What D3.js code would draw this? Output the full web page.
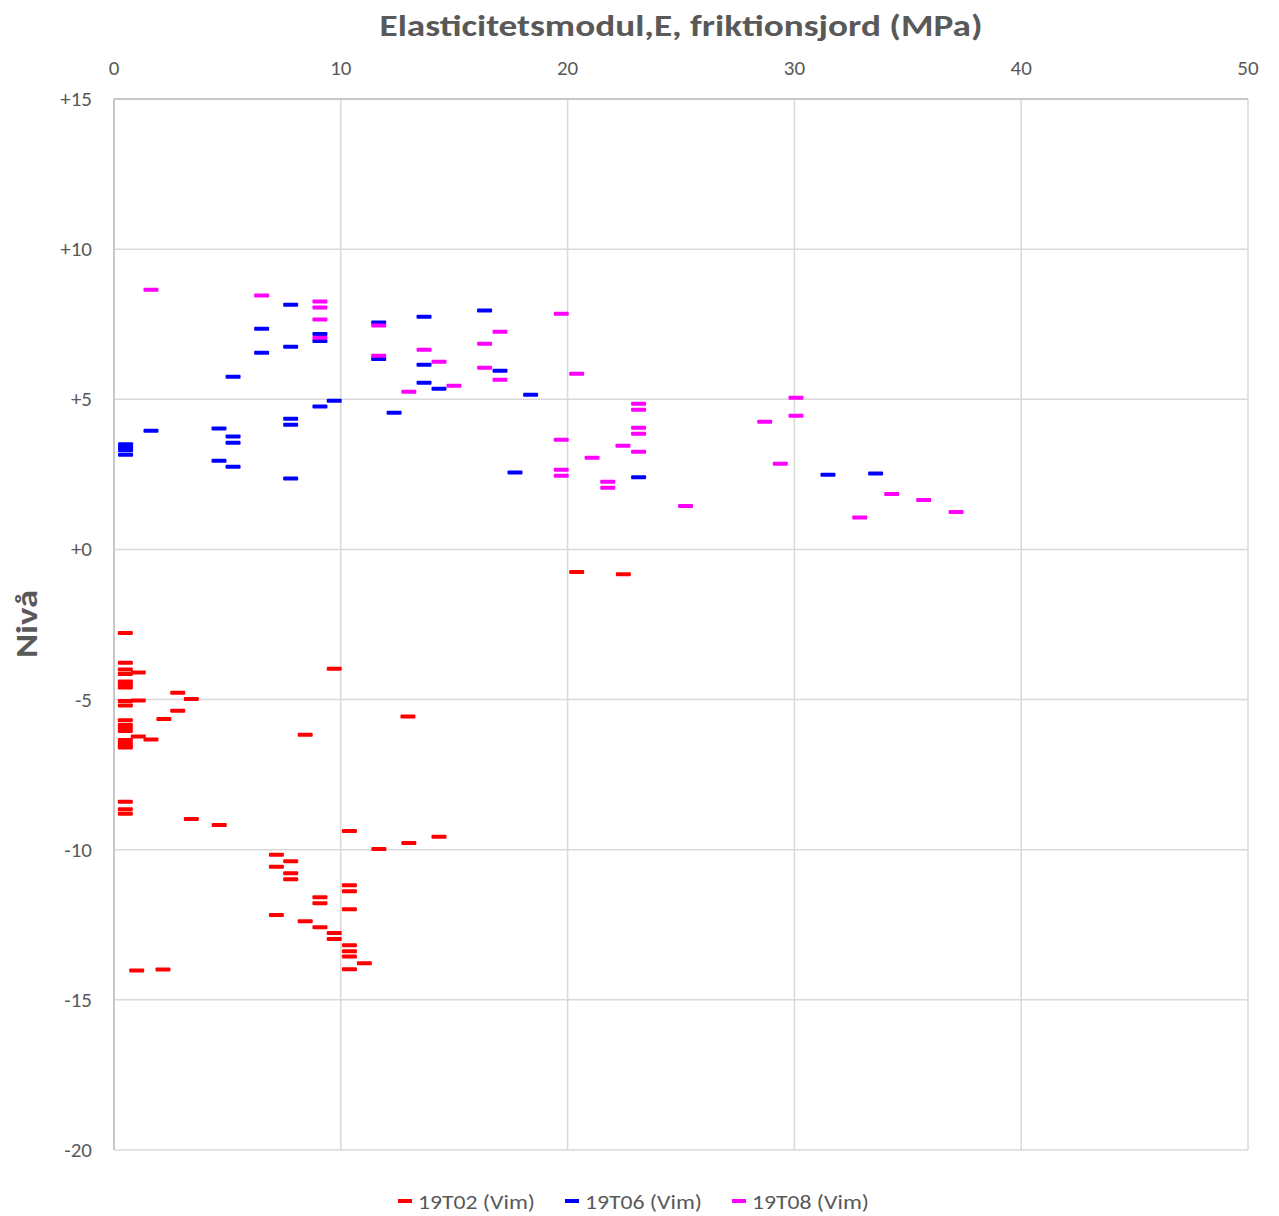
<!DOCTYPE html>
<html>
<head>
<meta charset="utf-8">
<script src="https://cdn.jsdelivr.net/npm/d3@7"></script>
<style>
  body { margin: 0; background: #fff; }
  svg text { font-family: Carlito, Calibri, "Liberation Sans", Arial, sans-serif; fill: #595959; }
</style>
</head>
<body>
<div id="chart"></div>
<script>
// ---- data ----
var seriesNames = ["19T02 (Vim)", "19T06 (Vim)", "19T08 (Vim)"];
var seriesColors = ["#ff0000", "#0000ff", "#ff00ff"];

var xTicks = [0, 10, 20, 30, 40, 50];
var yTicks = [15, 10, 5, 0, -5, -10, -15, -20];
var yTickLabels = ["+15", "+10", "+5", "+0", "-5", "-10", "-15", "-20"];

// 19T02 (Vim)
var e02 = [0.5, 0.5, 0.5, 0.5, 0.5, 0.5, 0.5, 0.5, 0.5, 0.5, 0.5, 0.5, 0.5, 0.5, 0.5, 0.5, 0.5, 0.5, 0.5, 0.5,
  1.07, 1.07, 1.07, 1.63, 2.2, 2.81, 2.81, 3.41, 3.41, 4.64, 8.43, 9.71, 12.96,
  10.38, 10.38, 10.38, 10.38, 10.38, 10.38, 10.38, 10.38, 14.33, 13.0, 11.68,
  7.16, 7.16, 7.16, 7.79, 7.79, 7.79, 9.08, 9.08, 9.08, 8.43, 9.71, 9.71, 11.04,
  1.0, 2.16, 20.4, 22.46];
var lvl02 = [-2.78, -3.77, -4.0, -4.15, -4.4, -4.5, -4.6, -5.05, -5.2, -5.69, -5.85, -5.95, -6.05, -6.35, -6.45, -6.55, -6.6, -8.4, -8.65, -8.8,
  -4.1, -5.03, -6.23, -6.33, -5.65, -4.77, -5.37, -4.98, -8.98, -9.18, -6.17, -3.97, -5.56,
  -9.38, -11.18, -11.38, -11.98, -13.18, -13.38, -13.56, -13.98, -9.57, -9.78, -9.98,
  -10.17, -10.57, -12.17, -10.38, -10.78, -10.98, -11.58, -11.78, -12.58, -12.38, -12.77, -12.97, -13.78,
  -14.02, -13.99, -0.75, -0.83];

// 19T06 (Vim)
var e06 = [0.51, 0.51, 0.51, 0.51, 1.63, 4.63, 4.63, 5.25, 5.25, 5.25, 5.25, 6.51, 6.51,
  7.79, 7.79, 7.79, 7.79, 7.79, 9.08, 9.08, 9.08, 9.71, 11.67, 11.67, 12.35,
  13.67, 13.67, 13.67, 14.33, 16.34, 17.02, 17.68, 18.37, 23.13, 31.48, 33.58];
var lvl06 = [3.5, 3.4, 3.3, 3.15, 3.95, 4.03, 2.95, 5.75, 3.76, 3.55, 2.75, 7.35, 6.55,
  8.15, 6.75, 4.35, 4.15, 2.36, 7.17, 6.94, 4.76, 4.95, 7.56, 6.34, 4.55,
  7.75, 6.15, 5.55, 5.35, 7.96, 5.95, 2.56, 5.15, 2.4, 2.49, 2.53];

// 19T08 (Vim)
var e08 = [1.63, 6.51, 9.08, 9.08, 9.08, 9.08, 11.67, 11.67, 13.0, 13.67, 14.33, 14.99,
  16.34, 16.34, 17.02, 17.02, 19.72, 19.72, 19.72, 19.72, 20.4, 21.08, 21.77, 21.77, 22.44,
  23.13, 23.13, 23.13, 23.13, 23.13, 25.2, 28.69, 29.38, 30.07, 30.07, 32.88, 34.29, 35.7, 37.13];
var lvl08 = [8.65, 8.46, 8.26, 8.06, 7.66, 7.05, 7.46, 6.45, 5.25, 6.65, 6.25, 5.45,
  6.85, 6.05, 7.25, 5.65, 7.85, 3.65, 2.65, 2.45, 5.85, 3.05, 2.25, 2.05, 3.45,
  4.85, 4.65, 4.05, 3.85, 3.25, 1.45, 4.25, 2.85, 5.05, 4.45, 1.06, 1.85, 1.65, 1.25];

var seriesE = [e02, e06, e08];
var seriesLvl = [lvl02, lvl06, lvl08];

// ---- layout ----
var W = 1279, H = 1216;
var plotL = 114, plotR = 1248, plotT = 99, plotB = 1150;

var svg = d3.select("#chart").append("svg").attr("width", W).attr("height", H);

var x = d3.scaleLinear().domain([0, 50]).range([plotL, plotR]);
var y = d3.scaleLinear().domain([-20, 15]).range([plotB, plotT]);

// gridlines
svg.append("g").selectAll("line").data(xTicks).enter().append("line")
  .attr("x1", function (d) { return x(d); }).attr("x2", function (d) { return x(d); })
  .attr("y1", plotT).attr("y2", plotB)
  .attr("stroke", "#d9d9d9").attr("stroke-width", 1.5);
svg.append("g").selectAll("line").data(yTicks).enter().append("line")
  .attr("x1", plotL).attr("x2", plotR)
  .attr("y1", function (d) { return y(d); }).attr("y2", function (d) { return y(d); })
  .attr("stroke", "#d9d9d9").attr("stroke-width", 1.5);

// axis lines (left and top)
svg.append("line").attr("x1", plotL).attr("x2", plotL).attr("y1", plotT).attr("y2", plotB)
  .attr("stroke", "#c8c8c8").attr("stroke-width", 2);
svg.append("line").attr("x1", plotL).attr("x2", plotR).attr("y1", plotT).attr("y2", plotT)
  .attr("stroke", "#c8c8c8").attr("stroke-width", 2);

// top x tick labels
svg.append("g").selectAll("text").data(xTicks).enter().append("text")
  .attr("x", function (d) { return x(d); }).attr("y", 75)
  .attr("text-anchor", "middle").attr("font-size", 21)
  .text(function (d) { return d; });

// y tick labels
svg.append("g").selectAll("text").data(yTicks).enter().append("text")
  .attr("x", 92).attr("y", function (d) { return y(d) + 7; })
  .attr("text-anchor", "end").attr("font-size", 21)
  .text(function (d, i) { return yTickLabels[i]; });

// title
svg.append("text").attr("x", 681).attr("y", 36).attr("text-anchor", "middle")
  .attr("font-size", 31).attr("font-weight", "bold")
  .attr("textLength", 603).attr("lengthAdjust", "spacingAndGlyphs")
  .text("Elasticitetsmodul,E, friktionsjord (MPa)");

// y axis title
svg.append("text").attr("transform", "translate(37,624) rotate(-90)")
  .attr("text-anchor", "middle").attr("font-size", 30).attr("font-weight", "bold")
  .attr("textLength", 68).attr("lengthAdjust", "spacingAndGlyphs")
  .text("Nivå");

// markers (short horizontal dashes)
var mw = 15, mh = 4;
seriesE.forEach(function (es, s) {
  var pts = es.map(function (e, i) { return [e, seriesLvl[s][i]]; });
  svg.append("g").selectAll("rect").data(pts).enter().append("rect")
    .attr("x", function (d) { return x(d[0]) - mw / 2; })
    .attr("y", function (d) { return y(d[1]) - mh / 2; })
    .attr("width", mw).attr("height", mh).attr("rx", 1)
    .attr("fill", seriesColors[s]);
});

// legend
var legendX = [398, 565, 732];
var lg = svg.append("g").selectAll("g").data(seriesNames).enter().append("g")
  .attr("transform", function (d, i) { return "translate(" + legendX[i] + ",1201)"; });
lg.append("rect").attr("x", 0).attr("y", -2).attr("width", 14).attr("height", 4)
  .attr("fill", function (d, i) { return seriesColors[i]; });
lg.append("text").attr("x", 20).attr("y", 8).attr("font-size", 21)
  .attr("textLength", 117).attr("lengthAdjust", "spacingAndGlyphs")
  .text(function (d) { return d; });
</script>
</body>
</html>
